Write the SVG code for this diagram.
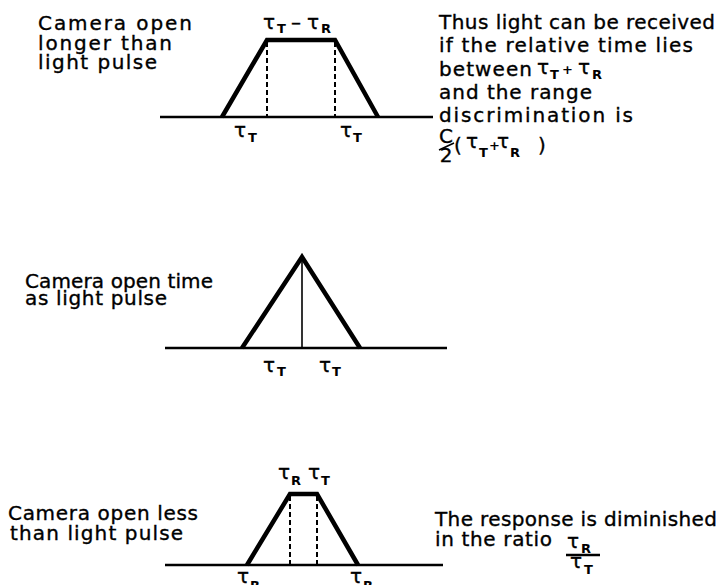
<svg xmlns="http://www.w3.org/2000/svg" width="722" height="585" viewBox="0 0 722 585">
<style>
.t{font-family:"DejaVu Sans","Liberation Sans",sans-serif;font-size:20px;fill:#000;stroke:#000;stroke-width:0.35}
.g{font-family:"DejaVu Sans","Liberation Sans",sans-serif;font-size:20px;fill:#000;stroke:#000;stroke-width:0.35}
.s{font-family:"DejaVu Sans","Liberation Sans",sans-serif;font-size:13px;font-weight:bold;fill:#000}
.base{stroke:#000;stroke-width:2.5;fill:none}
.pulse{stroke:#000;stroke-width:4.5;fill:none;stroke-linejoin:miter}
.dash{stroke:#000;stroke-width:2;stroke-dasharray:5 3;fill:none}
.thin{stroke:#000;stroke-width:1.6;fill:none}
</style>
<rect width="722" height="585" fill="#fff"/>

<g id="panel1">
  <g id="label1">
    <text class="t" x="38" y="30" textLength="154">Camera open</text>
    <text class="t" x="38" y="50" textLength="134">longer than</text>
    <text class="t" x="38" y="69" textLength="119">light pulse</text>
  </g>
  <g id="pulse1">
    <line class="base" x1="160" y1="117" x2="433" y2="117"/>
    <polyline class="pulse" points="222,117 267,40 335,40 378,117"/>
    <line class="dash" x1="267" y1="42" x2="267" y2="117"/>
    <line class="dash" x1="335" y1="42" x2="335" y2="117"/>
  </g>
  <g id="taus1">
    <text class="g" x="263" y="29">τ</text><text class="s" x="277" y="33">T</text>
    <text class="g" x="291" y="29">–</text>
    <text class="g" x="307" y="29">τ</text><text class="s" x="321" y="33">R</text>
    <text class="g" x="234" y="137">τ</text><text class="s" x="248" y="142">T</text>
    <text class="g" x="340" y="137">τ</text><text class="s" x="353" y="142">T</text>
  </g>
  <g id="note1">
    <text class="t" x="439" y="29" textLength="276">Thus light can be received</text>
    <text class="t" x="439" y="52" textLength="254">if the relative time lies</text>
    <text class="t" x="439" y="76" textLength="93">between</text>
    <text class="g" x="537" y="74">τ</text><text class="s" x="550" y="79">T</text>
    <text class="s" x="562" y="74">+</text>
    <text class="g" x="578" y="74">τ</text><text class="s" x="592" y="79">R</text>
    <text class="t" x="439" y="99" textLength="153">and the range</text>
    <text class="t" x="439" y="122" textLength="194">discrimination is</text>
    <text class="t" x="446" y="143" text-anchor="middle" font-size="16">C</text>
    <text class="t" x="446" y="162" text-anchor="middle" font-size="16">2</text>
    <line class="thin" x1="439" y1="150" x2="454" y2="143"/>
    <text class="t" x="454" y="152">(</text>
    <text class="g" x="466" y="148">τ</text><text class="s" x="479" y="157">T</text>
    <text class="s" x="489" y="150">+</text>
    <text class="g" x="497" y="148">τ</text><text class="s" x="510" y="157">R</text>
    <text class="t" x="538" y="152">)</text>
  </g>
</g>

<g id="panel2">
  <g id="label2">
    <text class="t" x="25" y="288" textLength="188">Camera open time</text>
    <text class="t" x="25" y="305" textLength="142">as light pulse</text>
  </g>
  <g id="pulse2">
    <line class="base" x1="165" y1="348" x2="447" y2="348"/>
    <polyline class="pulse" points="242,348 302,257 360,348"/>
    <line class="thin" x1="302" y1="258" x2="302" y2="348"/>
  </g>
  <g id="taus2">
    <text class="g" x="263" y="372">τ</text><text class="s" x="277" y="376">T</text>
    <text class="g" x="319" y="372">τ</text><text class="s" x="332" y="376">T</text>
  </g>
</g>

<g id="panel3">
  <g id="label3">
    <text class="t" x="8" y="520" textLength="190">Camera open less</text>
    <text class="t" x="10" y="540" textLength="173">than light pulse</text>
  </g>
  <g id="pulse3">
    <line class="base" x1="165" y1="565" x2="443" y2="565"/>
    <polyline class="pulse" points="247,565 290,494 317,494 358,565"/>
    <line class="dash" x1="290" y1="496" x2="290" y2="565"/>
    <line class="dash" x1="317" y1="496" x2="317" y2="565"/>
  </g>
  <g id="taus3">
    <text class="g" x="278" y="479">τ</text><text class="s" x="291" y="485">R</text>
    <text class="g" x="308" y="479">τ</text><text class="s" x="321" y="485">T</text>
    <text class="g" x="237" y="583">τ</text><text class="s" x="250" y="590">R</text>
    <text class="g" x="350" y="583">τ</text><text class="s" x="363" y="590">R</text>
  </g>
  <g id="note3">
    <text class="t" x="435" y="526" textLength="282">The response is diminished</text>
    <text class="t" x="435" y="546" textLength="117">in the ratio</text>
    <text class="g" x="567" y="548">τ</text><text class="s" x="581" y="553">R</text>
    <line class="base" x1="566" y1="555" x2="600" y2="555"/>
    <text class="g" x="570" y="568">τ</text><text class="s" x="584" y="574">T</text>
  </g>
</g>
</svg>
